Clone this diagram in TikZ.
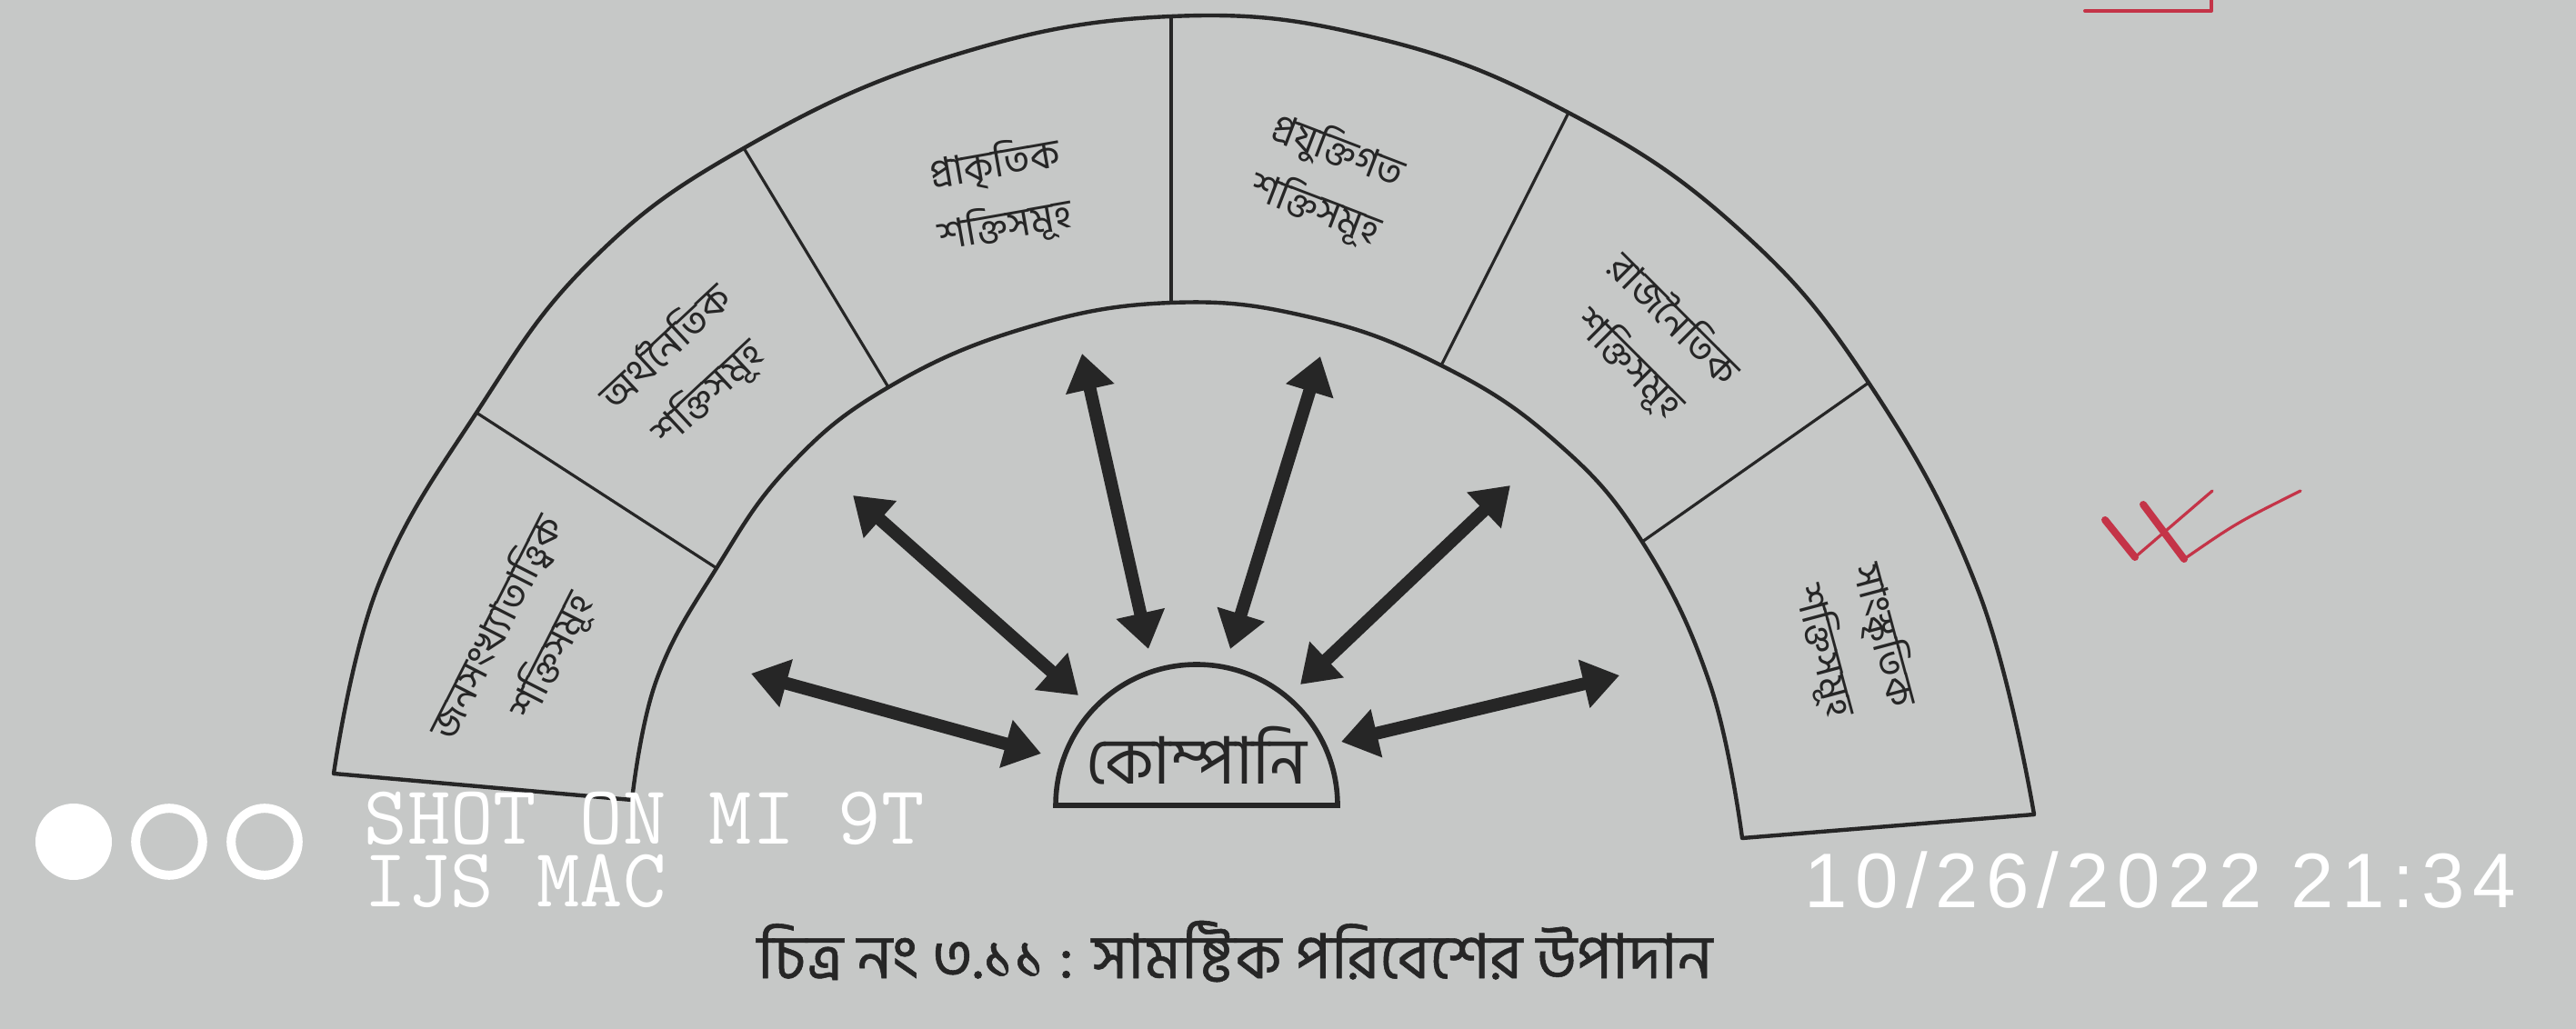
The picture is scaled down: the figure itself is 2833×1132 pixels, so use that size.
\documentclass[tikz,border=0pt]{standalone}
\usepackage{fontspec}
\newfontfamily\bn[Script=Bengali]{Hind Siliguri}
\newfontfamily\bncap[Script=Bengali,FakeBold=0.8]{Hind Siliguri}
\newfontfamily\stampfont[LetterSpace=10]{Liberation Sans}
\usetikzlibrary{arrows.meta}
\definecolor{paper}{RGB}{198,200,199}
\definecolor{ink}{RGB}{38,38,38}
\definecolor{redpen}{RGB}{196,52,72}
\begin{document}
\begin{tikzpicture}[x=0.25pt,y=-0.25pt,
  band/.style={draw=ink, line width=1.1pt, line join=round},
  divider/.style={draw=ink, line width=0.8pt},
  seglabel/.style={font=\bn\fontsize{11}{17}\selectfont, align=center, text=ink, inner sep=0pt},
  companylabel/.style={font=\bn\fontsize{18}{20}\selectfont, text=ink, inner sep=0pt, anchor=base},
  captionlabel/.style={font=\bncap\fontsize{17}{20}\selectfont, text=ink, inner sep=0pt, anchor=base},
  biarrow/.style={draw=ink, line width=3.5pt, {Triangle[length=10pt,width=13pt]}-{Triangle[length=10pt,width=13pt]}},
  dome/.style={draw=ink, line width=1.4pt},
  marktext/.style={text=white, inner sep=0pt, anchor=base west},
  penmark/.style={draw=redpen, line cap=round, line join=round}]
% paper
\fill[paper] (0,0) rectangle (2833,1132);
\useasboundingbox (0,0) rectangle (2833,1132);

% outer / inner arc points of the band
\coordinate (oL) at (367,851);  \coordinate (o1) at (524,454);  \coordinate (o2) at (818,163);
\coordinate (oT) at (1288,18);  \coordinate (o4) at (1725,124); \coordinate (o5) at (2055,421);
\coordinate (oR) at (2237,896);
\coordinate (iL) at (695,880);  \coordinate (i1) at (788,625);  \coordinate (i2) at (977,426);
\coordinate (iT) at (1288,333); \coordinate (i4) at (1585,402); \coordinate (i5) at (1806,596);
\coordinate (iR) at (1916,922);

% the half ring
\draw[band] plot[smooth, tension=0.7] coordinates {(367,851) (416,644) (524,454) (649,288) (818,163) (1045,62) (1288,18) (1514,42) (1725,124) (1911,251) (2055,421) (2176,651) (2237,896)}
  -- plot[smooth, tension=0.7] coordinates {(1916,922) (1881,754) (1806,596) (1710,485) (1585,402) (1441,349) (1288,333) (1127,361) (977,426) (868,513) (788,625) (722,748) (695,880)}
  -- cycle;

% dividers
\draw[divider] (o1) -- (i1);
\draw[divider] (o2) -- (i2);
\draw[divider] (oT) -- (iT);
\draw[divider] (o4) -- (i4);
\draw[divider] (o5) -- (i5);

% segment labels
\node[seglabel, rotate=63]  (s1) at (577,706)  {জনসংখ্যাতাত্ত্বিক\\শক্তিসমূহ};
\node[seglabel, rotate=43]  (s2) at (756,408)  {অর্থনৈতিক\\শক্তিসমূহ};
\node[seglabel, rotate=10]  (s3) at (1100,215) {প্রাকৃতিক\\শক্তিসমূহ};
\node[seglabel, rotate=-21] (s4) at (1459,198) {প্রযুক্তিগত\\শক্তিসমূহ};
\node[seglabel, rotate=-45] (s5) at (1816,376) {রাজনৈতিক\\শক্তিসমূহ};
\node[seglabel, rotate=-75] (s6) at (2039,708) {সাংস্কৃতিক\\শক্তিসমূহ};

% company dome
\draw[dome] (1161,886) .. controls (1161,800) and (1230,731) .. (1316,731)
  .. controls (1402,731) and (1471,800) .. (1471,886) -- cycle;
\node[companylabel] (company) at (1316,862) {কোম্পানি};

% arrow end points
\coordinate (a1o) at (826,741);  \coordinate (a1c) at (1145,829);
\coordinate (a2o) at (938,545);  \coordinate (a2c) at (1186,765);
\coordinate (a3o) at (1190,389); \coordinate (a3c) at (1263,714);
\coordinate (a4o) at (1452,392); \coordinate (a4c) at (1353,714);
\coordinate (a5o) at (1661,534); \coordinate (a5c) at (1430,753);
\coordinate (a6o) at (1781,743); \coordinate (a6c) at (1475,816);
\draw[biarrow] (a1o) -- (a1c);
\draw[biarrow] (a2o) -- (a2c);
\draw[biarrow] (a3o) -- (a3c);
\draw[biarrow] (a4o) -- (a4c);
\draw[biarrow] (a5o) -- (a5c);
\draw[biarrow] (a6o) -- (a6c);

% caption
\node[captionlabel] (caption) at (1358,1076) {চিত্র নং ৩.১১ : সামষ্টিক পরিবেশের উপাদান};

% red pen marks
\draw[penmark, line width=1pt] (2293,12) -- (2432,12) -- (2432,0);
\draw[penmark, line width=2pt] (2315,572) -- (2348,613);
\draw[penmark, line width=0.8pt] (2348,613) -- (2433,540);
\draw[penmark, line width=2pt] (2357,555) -- (2402,615);
\draw[penmark, line width=0.8pt] (2402,615) .. controls (2460,575) .. (2530,540);

% camera watermark
\fill[white] (81,926) circle[radius=10.5pt];
\draw[white, line width=2.5pt] (186,926) circle[radius=9.2pt];
\draw[white, line width=2.5pt] (291,926) circle[radius=9.2pt];
\node[marktext, font=\ttfamily\fontsize{23}{23}\selectfont] (shot) at (400,928) {SHOT ON MI 9T};
\node[marktext, font=\ttfamily\fontsize{23}{23}\selectfont] (owner) at (400,997) {IJS MAC};
\node[marktext, font=\stampfont\fontsize{21.3}{22}\selectfont] (stamp) at (1984,998) {10/26/2022 21:34};
\end{tikzpicture}
\end{document}
